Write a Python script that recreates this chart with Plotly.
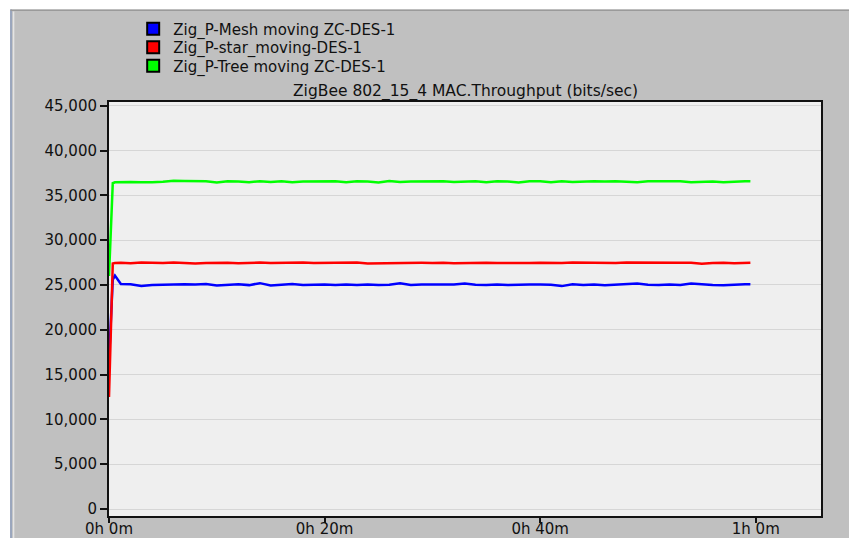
import plotly.graph_objects as go

# ---- data ----
time_min = [0, 0.35, 0.55, 1.1,
            2, 3, 4, 5, 6, 7, 8, 9, 10, 11, 12, 13, 14, 15, 16, 17, 18, 19, 20,
            21, 22, 23, 24, 25, 26, 27, 28, 29, 30, 31, 32, 33, 34, 35, 36, 37, 38, 39, 40,
            41, 42, 43, 44, 45, 46, 47, 48, 49, 50, 51, 52, 53, 54, 55, 56, 57, 58, 59, 59.5]

mesh_blue = [16500, 25600, 26050, 25100,
             25080, 24880, 25000, 25050, 25020, 25080, 25060, 25100, 24950, 25050, 25080, 24980, 25200, 24950, 25050, 25100, 25000, 25060, 25040,
             25000, 25050, 24980, 25060, 25000, 25020, 25180, 25000, 25040, 25020, 25070, 25050, 25150, 25020, 24980, 25050, 25000, 25060, 25040, 25050,
             25020, 24870, 25080, 25000, 25050, 24960, 25020, 25060, 25150, 25030, 24980, 25050, 25000, 25160, 25040, 25000, 24970, 25050, 25080, 25070]

star_red = [12500, 27400, 27450, 27480,
            27430, 27500, 27470, 27440, 27500, 27480, 27380, 27460, 27500, 27470, 27420, 27490, 27500, 27440, 27480, 27460, 27500, 27450, 27480,
            27430, 27490, 27500, 27400, 27420, 27480, 27430, 27500, 27470, 27460, 27490, 27420, 27460, 27490, 27470, 27450, 27480, 27500, 27460, 27480,
            27450, 27440, 27500, 27470, 27490, 27460, 27440, 27500, 27480, 27460, 27490, 27450, 27480, 27470, 27370, 27440, 27480, 27430, 27500, 27490]

tree_green = [26000, 36350, 36450, 36480,
              36500, 36470, 36450, 36520, 36620, 36600, 36570, 36580, 36430, 36560, 36540, 36450, 36580, 36500, 36560, 36470, 36550, 36580, 36560,
              36580, 36460, 36560, 36540, 36430, 36600, 36500, 36530, 36560, 36520, 36560, 36480, 36570, 36580, 36450, 36560, 36550, 36420, 36580, 36570,
              36460, 36560, 36480, 36550, 36560, 36530, 36570, 36520, 36470, 36560, 36540, 36500, 36560, 36450, 36480, 36540, 36470, 36550, 36580, 36570]

series_names = ["Zig_P-Mesh moving ZC-DES-1",
                "Zig_P-star_moving-DES-1",
                "Zig_P-Tree moving ZC-DES-1"]
series_colors = ["#0000ff", "#ff0000", "#00ff00"]
series_values = [mesh_blue, star_red, tree_green]

x_tickvals = [0, 20, 40, 60]
x_ticktext = ["0h 0m", "0h 20m", "0h 40m", "1h 0m"]
y_tickvals = [0, 5000, 10000, 15000, 20000, 25000, 30000, 35000, 40000, 45000]

title_text = "ZigBee 802_15_4 MAC.Throughput (bits/sec)"

# ---- figure (page has an 8px body margin, so figure coords = page - 8) ----
W, H = 849, 530
L, R, T, B = 100.5, 813, 94, 508
FONT = "DejaVu Sans"
INK = "#111111"

def px_x(p):
    return (p - L) / (R - L)

def px_y(p):
    return (B - p) / (B - T)

legend_ids = ["legend", "legend2", "legend3"]
legend_rows = [21, 39.5, 58]

fig = go.Figure()
for name, color, vals in zip(series_names, series_colors, series_values):
    fig.add_trace(go.Scatter(x=time_min, y=vals, mode="lines",
                             line=dict(color=color, width=2.5),
                             showlegend=False, hoverinfo="skip"))
for name, color, lid in zip(series_names, series_colors, legend_ids):
    fig.add_trace(go.Scatter(x=[None], y=[None], mode="markers", name=name, legend=lid,
                             marker=dict(symbol="square", size=10, color=color,
                                         line=dict(color="black", width=1))))

shapes = [
    dict(type="rect", xref="paper", yref="paper", x0=px_x(-2), x1=px_x(1.5), y0=px_y(540), y1=px_y(-2),
         fillcolor="white", line=dict(width=0), layer="below"),
    dict(type="rect", xref="paper", yref="paper", x0=px_x(-2), x1=px_x(860), y0=px_y(1.5), y1=px_y(-2),
         fillcolor="white", line=dict(width=0), layer="below"),
    dict(type="line", xref="paper", yref="paper", x0=px_x(2.5), x1=px_x(2.5), y0=px_y(540), y1=px_y(1.5),
         line=dict(color="#9aa6bd", width=2), layer="below"),
    dict(type="line", xref="paper", yref="paper", x0=px_x(5), x1=px_x(5), y0=px_y(540), y1=px_y(3.5),
         line=dict(color="#e4e4e4", width=1.5), layer="below"),
    dict(type="line", xref="paper", yref="paper", x0=px_x(2), x1=px_x(860), y0=px_y(2.2), y1=px_y(2.2),
         line=dict(color="#9a9a9a", width=1.5), layer="below"),
]

legend_common = dict(xanchor="left", yanchor="middle", bgcolor="rgba(0,0,0,0)",
                     font=dict(family=FONT, size=15, color=INK),
                     itemsizing="constant", itemwidth=30)

layout_legends = {}
for lid, row in zip(legend_ids, legend_rows):
    layout_legends[lid] = dict(x=px_x(124.7), y=px_y(row), **legend_common)

fig.update_layout(
    width=W, height=H,
    margin=dict(l=L, r=W - R, t=T, b=H - B, pad=0, autoexpand=False),
    paper_bgcolor="#c0c0c0",
    plot_bgcolor="#efefef",
    font=dict(family=FONT, size=15, color=INK),
    shapes=shapes,
    showlegend=True,
    annotations=[dict(text=title_text, x=0.5, y=px_y(84), xref="paper", yref="paper",
                      showarrow=False, xanchor="center", yanchor="middle",
                      font=dict(family=FONT, size=15.5, color=INK))],
    **layout_legends,
)

fig.update_xaxes(range=[0, 66.05], tickvals=x_tickvals, ticktext=x_ticktext,
                 showgrid=False, zeroline=False, showline=True, mirror=True,
                 linecolor=INK, linewidth=2, ticks="outside", ticklen=5,
                 tickcolor=INK, tickwidth=1.5, ticklabelstandoff=-7,
                 tickfont=dict(family=FONT, size=15, color=INK))
fig.update_yaxes(range=[-781, 45413], tickvals=y_tickvals, tickformat=",d",
                 showgrid=True, gridcolor="#d6d6d6", gridwidth=1, zeroline=False,
                 showline=True, mirror=True, linecolor=INK, linewidth=2,
                 ticks="outside", ticklen=7, tickcolor=INK, tickwidth=1.5,
                 tickfont=dict(family=FONT, size=15, color=INK))

fig.write_html("out.html")
